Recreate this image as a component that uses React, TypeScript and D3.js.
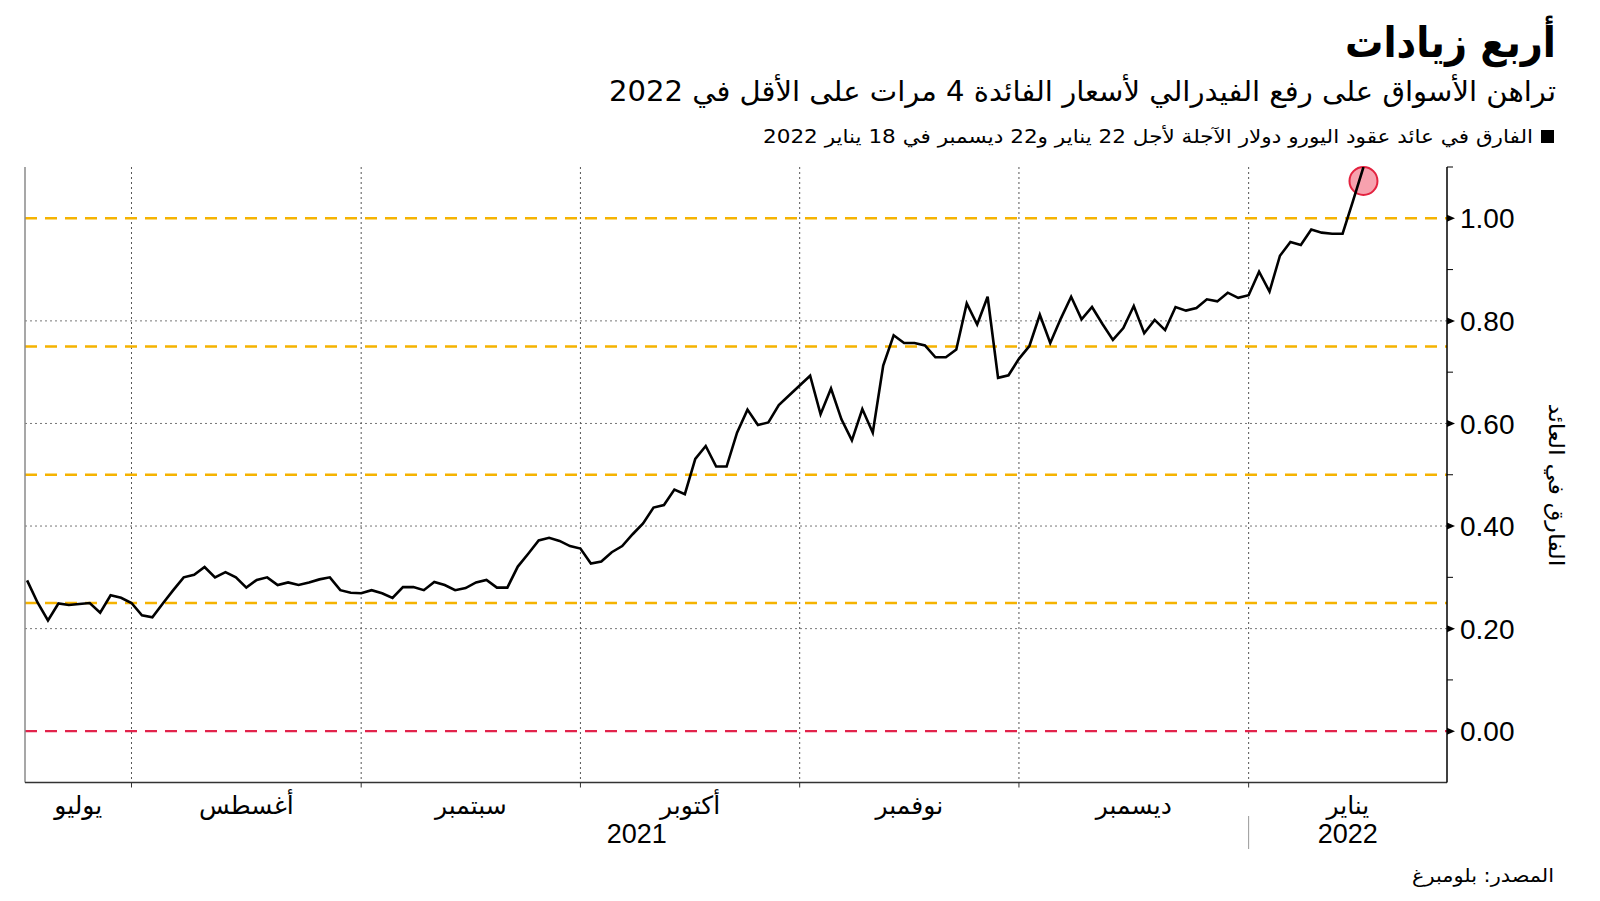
import React from 'react';
import * as d3 from 'd3';

// ---------- text ----------
const titleText = 'أربع زيادات';
const subtitleText = 'تراهن الأسواق على رفع الفيدرالي لأسعار الفائدة 4 مرات على الأقل في 2022';
const legendText = 'الفارق في عائد عقود اليورو دولار الآجلة لأجل 22 يناير و22 ديسمبر في 18 يناير 2022';
const yAxisTitle = 'الفارق في العائد';
const sourceText = 'المصدر: بلومبرغ';
const monthLabels = ['يوليو', 'أغسطس', 'سبتمبر', 'أكتوبر', 'نوفمبر', 'ديسمبر', 'يناير'];
const yearLabels = ['2021', '2022'];

// ---------- data (trading days 19 Jul 2021 – 18 Jan 2022) ----------
const firstDay = '2021-07-19';
const lastDay = '2022-01-18';
const closedDays = ['2021-09-06', '2021-11-25', '2021-12-24'];

const julValues = [0.294, 0.251, 0.216, 0.249, 0.246, 0.248, 0.250, 0.231, 0.265, 0.260];
const augValues = [0.250, 0.226, 0.222, 0.249, 0.275, 0.300, 0.305, 0.320, 0.300, 0.310, 0.300,
  0.280, 0.295, 0.300, 0.285, 0.290, 0.285, 0.290, 0.296, 0.300, 0.275, 0.270];
const sepValues = [0.269, 0.275, 0.269, 0.260, 0.281, 0.281, 0.275, 0.291, 0.285, 0.275, 0.279,
  0.290, 0.295, 0.280, 0.280, 0.321, 0.346, 0.372, 0.377, 0.371, 0.361];
const octValues = [0.356, 0.327, 0.331, 0.349, 0.361, 0.384, 0.405, 0.436, 0.441, 0.471, 0.462,
  0.531, 0.556, 0.516, 0.516, 0.582, 0.627, 0.597, 0.602, 0.636, 0.655];
const novValues = [0.674, 0.693, 0.618, 0.668, 0.608, 0.567, 0.628, 0.582, 0.713, 0.772, 0.757,
  0.757, 0.752, 0.729, 0.729, 0.744, 0.834, 0.793, 0.847, 0.689, 0.694];
const decValues = [0.726, 0.751, 0.812, 0.757, 0.804, 0.847, 0.803, 0.827, 0.794, 0.763, 0.786,
  0.829, 0.776, 0.802, 0.782, 0.827, 0.820, 0.825, 0.842, 0.838, 0.855, 0.845];
const janValues = [0.850, 0.896, 0.857, 0.927, 0.954, 0.948, 0.978, 0.972, 0.970, 0.970, 1.034, 1.100];

const thresholdLines = [0.25, 0.5, 0.75, 1.0];
const zeroLine = 0;
const yTicks = [0, 0.2, 0.4, 0.6, 0.8, 1.0];
const yMinorTicks = [-0.1, 0.1, 0.3, 0.5, 0.7, 0.9, 1.1];
const yDomain = [-0.1, 1.1];

// ---------- layout ----------
const W = 1600;
const H = 901;
const plotLeft = 25;
const plotRight = 1447;
const plotTop = 167;
const plotBottom = 782.5;
const xDomainPad = [-0.2, 136.0];

const arabicFont = "'DejaVu Sans', sans-serif";
const numFont = "'Liberation Sans', Arial, sans-serif";

function buildDates(): Date[] {
  const parse = d3.utcParse('%Y-%m-%d');
  const fmt = d3.utcFormat('%Y-%m-%d');
  const start = parse(firstDay)!;
  const end = parse(lastDay)!;
  const closed = new Set(closedDays);
  return d3.utcDays(start, d3.utcDay.offset(end, 1)).filter((d) => {
    const wd = d.getUTCDay();
    return wd !== 0 && wd !== 6 && !closed.has(fmt(d));
  });
}

export default function App() {
  const values = [...julValues, ...augValues, ...sepValues, ...octValues, ...novValues, ...decValues, ...janValues];
  const dates = buildDates();
  const n = Math.min(values.length, dates.length);
  const data = d3.range(n).map((i) => ({ i, date: dates[i], v: values[i] }));

  const x = d3.scaleLinear().domain(xDomainPad).range([plotLeft, plotRight]);
  const y = d3.scaleLinear().domain(yDomain).range([plotBottom, plotTop]);

  // month starts
  const monthStarts: number[] = [];
  data.forEach((d, k) => {
    if (k === 0 || d.date.getUTCMonth() !== data[k - 1].date.getUTCMonth()) monthStarts.push(k);
  });
  const monthSpans = monthStarts.map((s, k) => {
    const x0 = k === 0 ? plotLeft : x(s);
    const x1 = k < monthStarts.length - 1 ? x(monthStarts[k + 1]) : plotRight;
    return { x0, x1, mid: (x0 + x1) / 2, label: monthLabels[k], year: data[s].date.getUTCFullYear() };
  });
  const yearStartIdx = monthStarts.find((s) => data[s].date.getUTCMonth() === 0)!;
  const yearSplitX = x(yearStartIdx);

  const line = d3.line<{ i: number; v: number }>().x((d) => x(d.i)).y((d) => y(d.v));
  const last = data[data.length - 1];
  const circleR = 14;
  const circleY = Math.max(y(last.v), plotTop + circleR);

  const axisX = plotRight;

  return (
    <svg width={W} height={H} style={{ position: 'absolute', left: 0, top: 0, background: '#fff' }}>
      <rect x={0} y={0} width={W} height={H} fill="#fff" />
      <defs>
        <clipPath id="plotClip">
          <rect x={plotLeft} y={plotTop} width={plotRight - plotLeft} height={plotBottom - plotTop} />
        </clipPath>
      </defs>

      {/* Title block */}
      <text x={1556} y={57} direction="rtl" textAnchor="start" fontFamily={arabicFont} fontWeight="bold"
        fontSize={42} fill="#000" textLength={211} lengthAdjust="spacingAndGlyphs">{titleText}</text>
      <text x={1556} y={101} direction="rtl" textAnchor="start" fontFamily={arabicFont}
        fontSize={28} fill="#000" textLength={947} lengthAdjust="spacingAndGlyphs">{subtitleText}</text>
      <rect x={1541} y={130} width={13} height={13} fill="#000" />
      <text x={1533} y={143} direction="rtl" textAnchor="start" fontFamily={arabicFont}
        fontSize={19} fill="#000" textLength={770} lengthAdjust="spacingAndGlyphs">{legendText}</text>

      {/* horizontal grid */}
      {yTicks.filter((t) => t !== 0 && t !== 1).map((t) => (
        <line key={'hg' + t} x1={plotLeft} x2={plotRight} y1={y(t)} y2={y(t)}
          stroke="#777" strokeWidth={1} strokeDasharray="2,3" />
      ))}
      {/* vertical grid */}
      {monthStarts.slice(1).map((s) => (
        <line key={'vg' + s} x1={x(s)} x2={x(s)} y1={plotTop} y2={plotBottom}
          stroke="#555" strokeWidth={1} strokeDasharray="2,3" />
      ))}

      {/* threshold lines */}
      {thresholdLines.map((t) => (
        <line key={'th' + t} x1={plotLeft} x2={plotRight} y1={y(t)} y2={y(t)}
          stroke="#F5B301" strokeWidth={2.6} strokeDasharray="12,8" />
      ))}
      <line x1={plotLeft} x2={plotRight} y1={y(zeroLine)} y2={y(zeroLine)}
        stroke="#E2234B" strokeWidth={2.2} strokeDasharray="12,8" />

      {/* annotation circle */}
      <circle cx={x(last.i)} cy={circleY} r={circleR} fill="#F7A1AE" stroke="#E3223F" strokeWidth={2} />

      {/* series line */}
      <path d={line(data) || ''} fill="none" stroke="#000" strokeWidth={2.6} strokeLinejoin="miter"
        clipPath="url(#plotClip)" />

      {/* axes */}
      <line x1={plotLeft} x2={plotLeft} y1={plotTop} y2={plotBottom} stroke="#8a8a8a" strokeWidth={1.5} />
      <line x1={plotLeft} x2={axisX} y1={plotBottom} y2={plotBottom} stroke="#333" strokeWidth={1.5} />
      <line x1={axisX} x2={axisX} y1={plotTop} y2={plotBottom} stroke="#000" strokeWidth={1.5} />

      {/* right axis ticks */}
      {yMinorTicks.filter((t) => t > yDomain[0]).map((t) => (
        <line key={'mt' + t} x1={axisX} x2={axisX + 6} y1={y(t)} y2={y(t)} stroke="#000" strokeWidth={1} />
      ))}
      {yTicks.map((t) => (
        <g key={'yt' + t}>
          <path d={`M${axisX},${y(t) - 3.5}L${axisX + 8},${y(t)}L${axisX},${y(t) + 3.5}Z`} fill="#000" />
          <text x={axisX + 13} y={y(t)} dy="0.36em" fontFamily={numFont} fontSize={28} fill="#000">
            {d3.format('.2f')(t)}
          </text>
        </g>
      ))}
      <text transform={`translate(1549,485) rotate(90)`} direction="rtl" textAnchor="middle"
        fontFamily={arabicFont} fontSize={21} fill="#000" textLength={163}
        lengthAdjust="spacingAndGlyphs">{yAxisTitle}</text>

      {/* bottom axis ticks and labels */}
      {monthStarts.slice(1).map((s) => (
        <line key={'bt' + s} x1={x(s)} x2={x(s)} y1={plotBottom} y2={plotBottom + 5} stroke="#333" strokeWidth={1} />
      ))}
      {monthSpans.map((m) => (
        <text key={m.label} x={m.mid} y={814} textAnchor="middle" direction="rtl"
          fontFamily={arabicFont} fontSize={25} fill="#000">{m.label}</text>
      ))}
      <text x={(plotLeft + yearSplitX) / 2} y={843} textAnchor="middle" fontFamily={numFont}
        fontSize={27} fill="#000">{yearLabels[0]}</text>
      <text x={(yearSplitX + plotRight) / 2} y={843} textAnchor="middle" fontFamily={numFont}
        fontSize={27} fill="#000">{yearLabels[1]}</text>
      <line x1={yearSplitX} x2={yearSplitX} y1={816} y2={849} stroke="#999" strokeWidth={1} />

      {/* source */}
      <text x={1554} y={882} direction="rtl" textAnchor="start" fontFamily={arabicFont}
        fontSize={19} fill="#000" textLength={142} lengthAdjust="spacingAndGlyphs">{sourceText}</text>
    </svg>
  );
}
